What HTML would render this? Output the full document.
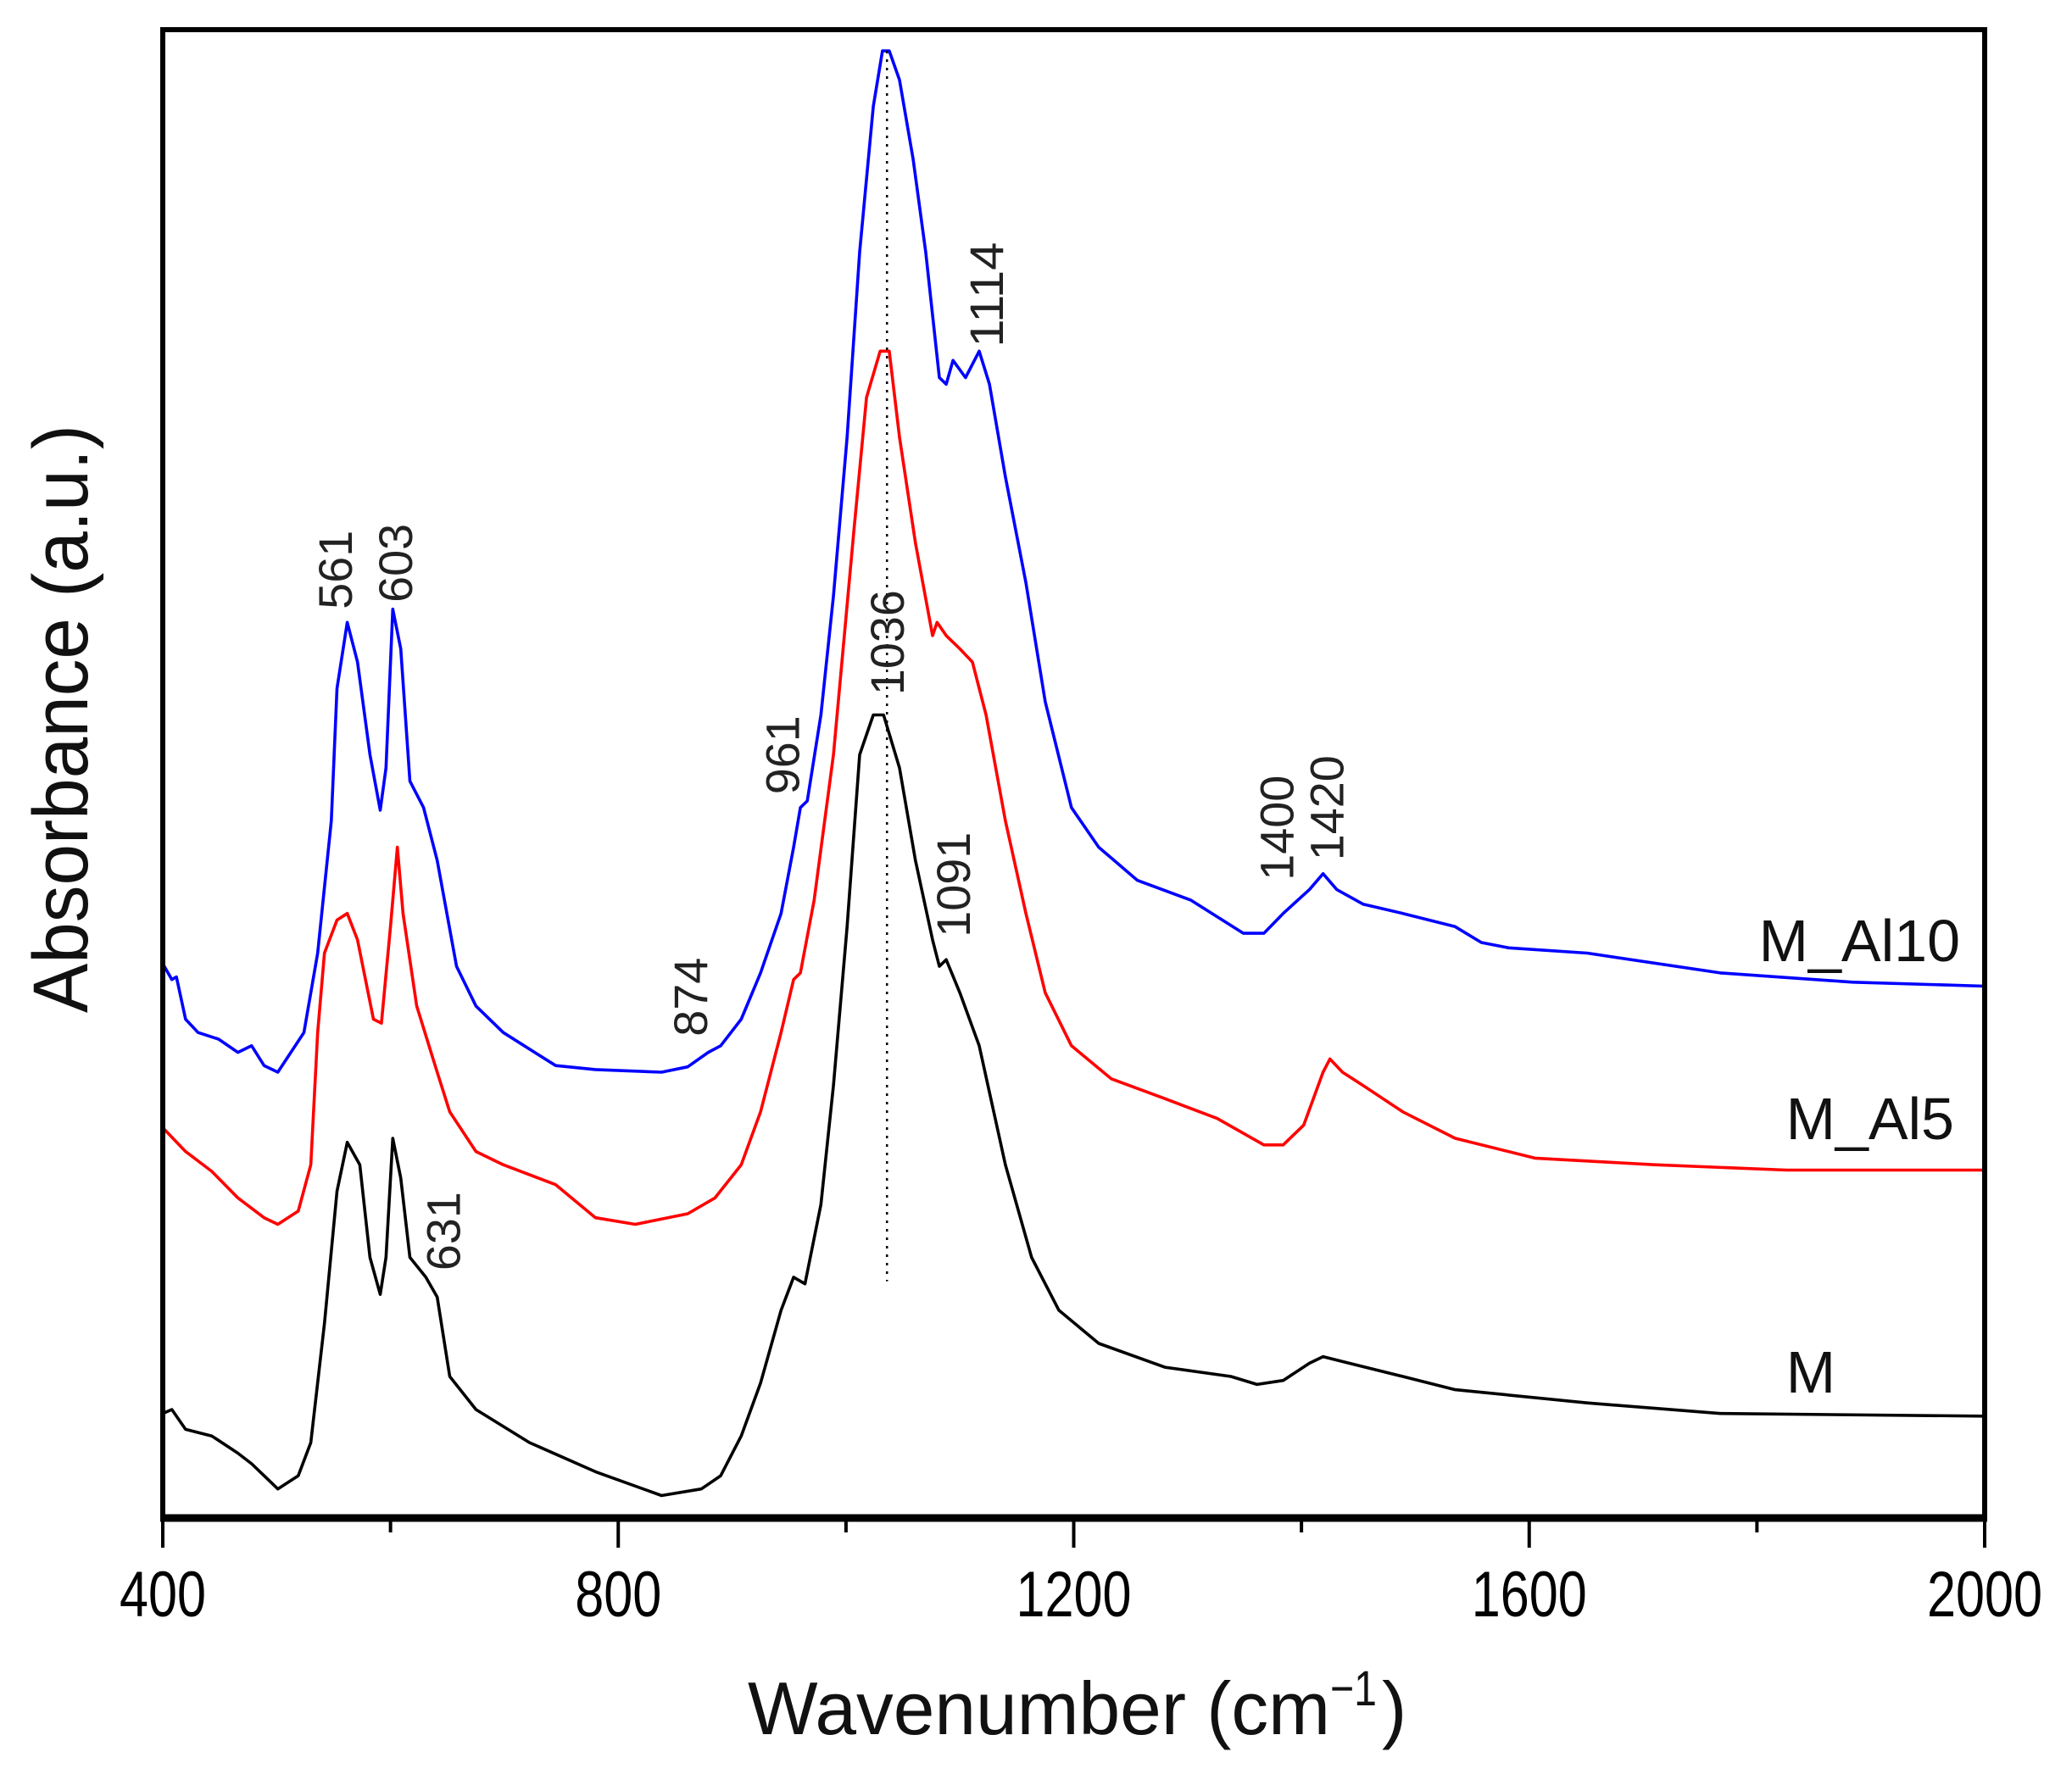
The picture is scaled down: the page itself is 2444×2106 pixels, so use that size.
<!DOCTYPE html>
<html><head><meta charset="utf-8"><style>
html,body{margin:0;padding:0;background:#fff;}
svg{display:block;font-family:"Liberation Sans",Arial,sans-serif;}
</style></head><body>
<svg id="chart" width="2444" height="2106" viewBox="0 0 2444 2106" xmlns="http://www.w3.org/2000/svg">
<rect width="2444" height="2106" fill="#fff"/>
<g id="series"></g>
<g id="axes"></g>
<g id="labels"></g>
</svg>
<script>
const xTicks = [400, 800, 1200, 1600, 2000];
const xMinorTicks = [600, 1000, 1400, 1800];
const xTickLabels = ["400", "800", "1200", "1600", "2000"];

const wnAl10 = [400,408,412,420,431,449,466,478,489,501,524,536,548,553,562,571,582,591,596,602,609,617,629,641,658,675,699,745,780,838,861,879,890,908,925,943,954,960,966,978,989,1001,1012,1024,1032,1038,1047,1059,1070,1082,1088,1094,1105,1117,1126,1140,1158,1175,1198,1222,1256,1303,1349,1367,1384,1407,1419,1431,1454,1489,1535,1558,1582,1651,1768,1884,2000];
const absAl10 = [419,407,409,377,367,362,352,357,342,337,367,427,527,627,677,647,577,535,567,687,657,557,537,497,417,387,367,342,339,337,341,352,357,377,412,457,507,537,542,607,697,817,957,1067,1109,1109,1087,1027,957,862,857,875,862,882,857,787,707,617,537,507,482,467,442,442,457,475,487,475,464,457,447,435,431,427,412,405,402];

const wnAl5 = [400,420,443,466,489,501,519,530,536,542,553,562,571,585,592,600,606,611,623,641,652,675,699,745,780,815,861,885,908,925,943,954,960,972,989,1007,1018,1030,1038,1047,1061,1076,1080,1088,1100,1111,1123,1140,1158,1175,1198,1233,1280,1326,1367,1384,1402,1419,1425,1436,1454,1489,1535,1605,1710,1826,2000];
const absAl5 = [295,277,262,242,227,222,232,267,367,427,452,457,437,377,374,447,507,457,387,337,307,277,267,252,227,222,230,242,267,307,367,407,412,467,577,747,847,882,882,817,737,667,677,667,657,647,607,527,457,397,357,332,317,302,282,282,297,337,347,337,327,307,287,272,267,263,263];

const wnM = [400,408,420,443,466,478,489,501,519,530,542,553,562,573,582,591,596,602,609,617,631,641,652,675,722,780,838,873,890,908,925,943,954,964,978,989,1001,1012,1024,1033,1047,1061,1076,1082,1088,1100,1117,1140,1163,1187,1222,1280,1338,1361,1384,1407,1419,1442,1489,1535,1593,1651,1768,2000];
const absM = [79,82,67,62,49,41,32,22,32,57,147,247,284,267,197,169,197,287,257,197,182,167,107,82,57,35,17,22,32,62,102,157,182,177,237,327,447,577,607,607,567,497,437,417,422,397,357,267,197,157,132,114,107,101,104,117,122,117,107,97,92,87,79,77];

const peakLabels = ["561","603","631","874","961","1036","1114","1091","1400","1420"];
const peakLabelWn = [551,604,646,863,944,1036,1123,1094,1378,1422];
const peakLabelAbs = [687,692,187,364,547,622,885,439,482,497];

const NS = "http://www.w3.org/2000/svg";
const L = 192, R = 2341, T = 35, B = 1791;
const xScale = v => L + (v - 400) / 1600 * (R - L);
const yScale = v => B - v / 1125 * (B - T);

function mk(tag, attrs, parent, text) {
  const e = document.createElementNS(NS, tag);
  for (const k in attrs) e.setAttribute(k, attrs[k]);
  if (text !== undefined) e.textContent = text;
  parent.appendChild(e);
  return e;
}
const gS = document.getElementById('series');
const gA = document.getElementById('axes');
const gL = document.getElementById('labels');

function drawSeries(wn, ab, color, name) {
  const d = wn.map((w, i) => (i ? 'L' : 'M') + xScale(w).toFixed(1) + ' ' + yScale(ab[i]).toFixed(1)).join(' ');
  const p = mk('path', {d: d, fill: 'none', stroke: color, 'stroke-width': 3.6, 'stroke-linejoin': 'round'}, gS);
  
  
}
drawSeries(wnM, absM, '#000', 'series-m');
drawSeries(wnAl5, absAl5, '#ff0000', 'series-m-al5');
drawSeries(wnAl10, absAl10, '#0000ff', 'series-m-al10');

const dl = mk('line', {x1: xScale(1036), x2: xScale(1036), y1: yScale(1109), y2: yScale(179), stroke: '#000', 'stroke-width': 2.5, 'stroke-dasharray': '3 7'}, gS);



const fr = mk('rect', {x: L, y: T, width: R - L, height: B - T, fill: 'none', stroke: '#000', 'stroke-width': 6}, gA);


const bx = mk('line', {x1: L - 3, x2: R + 3, y1: B, y2: B, stroke: '#000', 'stroke-width': 9}, gA);



xTicks.forEach((t, i) => {
  const tk = mk('line', {x1: xScale(t), x2: xScale(t), y1: B, y2: B + 35, stroke: '#000', 'stroke-width': 4}, gA);
  
  
  const s = xTickLabels[i];
  const tl = mk('text', {x: xScale(t), y: 1907, 'font-size': 76, 'text-anchor': 'middle', textLength: s.length * 34, lengthAdjust: 'spacingAndGlyphs', fill: '#000'}, gA, s);
  
  
});
xMinorTicks.forEach(t => {
  const tk = mk('line', {x1: xScale(t), x2: xScale(t), y1: B, y2: B + 17, stroke: '#000', 'stroke-width': 4}, gA);
  
  
});

peakLabels.forEach((s, i) => {
  const x = xScale(peakLabelWn[i]) + 20, y = yScale(peakLabelAbs[i]);
  const t = mk('text', {x: 0, y: 0, transform: 'translate(' + x.toFixed(1) + ',' + y.toFixed(1) + ') rotate(-90)', 'font-size': 56, textLength: s.length * 31, lengthAdjust: 'spacingAndGlyphs', fill: '#222'}, gL, s);
  
  
});
</script>
<svg style="position:absolute;left:0;top:0" width="2444" height="2106">
<g font-family="Liberation Sans, Arial, sans-serif" fill="#111">
<text x="2312" y="1134" font-size="70" text-anchor="end">M_Al10</text>
<text x="2305" y="1344" font-size="70" text-anchor="end">M_Al5</text>
<text x="2165" y="1643" font-size="70" text-anchor="end">M</text>
<text transform="translate(103,848) rotate(-90)" font-size="92" text-anchor="middle" textLength="694" lengthAdjust="spacingAndGlyphs">Absorbance (a.u.)</text>
<text x="882" y="2046" font-size="88" textLength="687" lengthAdjust="spacingAndGlyphs">Wavenumber (cm</text>
<text x="1569" y="2012" font-size="58" textLength="55" lengthAdjust="spacingAndGlyphs">−1</text>
<text x="1630" y="2046" font-size="88">)</text>
</g>
</svg>
</body></html>
